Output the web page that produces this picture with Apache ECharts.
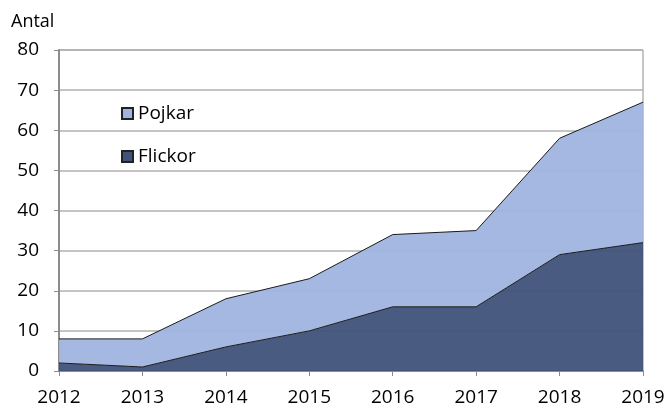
<!DOCTYPE html>
<html>
<head>
<meta charset="utf-8">
<script src="https://cdn.jsdelivr.net/npm/echarts@6/dist/echarts.min.js"></script>
<style>
  html, body { margin: 0; padding: 0; background: #fff; }
  #main { width: 668px; height: 407px; }
</style>
</head>
<body>
<div id="main"></div>
<script>
var years = ['2012', '2013', '2014', '2015', '2016', '2017', '2018', '2019'];
var flickor = [2, 1, 6, 10, 16, 16, 29, 32];
var pojkar = [6, 7, 12, 13, 18, 19, 29, 35];

var myChart = echarts.init(document.getElementById('main'));
var font = 'Open Sans';
var option = {
    animation: false,
    textStyle: { fontFamily: font },
    title: {
        text: 'Antal',
        left: 6,
        top: 8,
        textStyle: { fontSize: 18, fontWeight: 'normal', color: '#000', fontFamily: font }
    },
    legend: {
        orient: 'vertical',
        left: 116,
        top: 99,
        itemGap: 24,
        itemWidth: 11,
        itemHeight: 11,
        icon: 'rect',
        data: ['Pojkar', 'Flickor'],
        textStyle: { fontSize: 19, color: '#000', fontFamily: font }
    },
    grid: {
        left: 59,
        right: 25,
        top: 50,
        bottom: 36,
        show: true,
        borderColor: '#8c8c8c',
        borderWidth: 1
    },
    xAxis: {
        type: 'category',
        data: years,
        boundaryGap: false,
        axisLine: { lineStyle: { color: '#8c8c8c', width: 2 } },
        axisTick: { show: true, length: 5, lineStyle: { color: '#8c8c8c' } },
        axisLabel: { fontSize: 19, color: '#000', margin: 17, fontFamily: font }
    },
    yAxis: {
        type: 'value',
        min: 0,
        max: 80,
        interval: 10,
        axisLine: { show: true, lineStyle: { color: '#8c8c8c', width: 2 } },
        axisTick: { show: true, length: 5, lineStyle: { color: '#8c8c8c' } },
        axisLabel: { fontSize: 19, color: '#000', margin: 20, fontFamily: font },
        splitLine: { show: true, lineStyle: { color: '#b0b0b0', width: 1.5 } }
    },
    series: [
        {
            name: 'Flickor',
            type: 'line',
            stack: 'total',
            data: flickor,
            symbol: 'none',
            lineStyle: { color: '#1a1a1a', width: 1 },
            itemStyle: { color: '#3f5279', borderColor: '#222', borderWidth: 1 },
            areaStyle: { color: '#3f5279', opacity: 0.95 }
        },
        {
            name: 'Pojkar',
            type: 'line',
            stack: 'total',
            data: pojkar,
            symbol: 'none',
            lineStyle: { color: '#1a1a1a', width: 1 },
            itemStyle: { color: '#a0b4df', borderColor: '#222', borderWidth: 1 },
            areaStyle: { color: '#a0b4df', opacity: 0.95 }
        }
    ]
};
myChart.setOption(option);
</script>
</body>
</html>
